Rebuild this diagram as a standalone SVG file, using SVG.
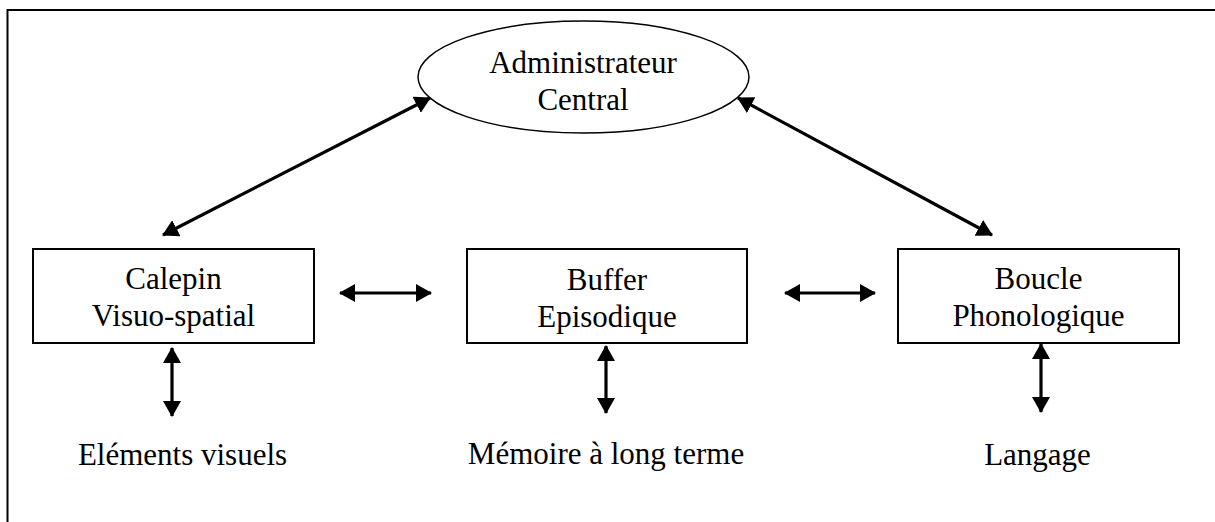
<svg xmlns="http://www.w3.org/2000/svg" width="1215" height="522" viewBox="0 0 1215 522">
<style>
text{font-family:"Liberation Serif","Times New Roman",serif;font-size:31px;fill:#000;text-anchor:middle}
.box{fill:#fff;stroke:#000;stroke-width:2}
.conn line{stroke:#000;stroke-width:3.2;marker-start:url(#ah);marker-end:url(#ah)}
</style>
<defs>
<marker id="ah" markerUnits="userSpaceOnUse" markerWidth="16" markerHeight="18" viewBox="0 0 16 18" refX="15" refY="9" orient="auto-start-reverse">
<path d="M0,0 L16,9 L0,18 z" fill="#000"/>
</marker>
</defs>
<rect width="1215" height="522" fill="#fff"/>
<path d="M7.5,523 V10 H1216" fill="none" stroke="#000" stroke-width="2"/>
<g id="admin">
<ellipse cx="583.5" cy="77" rx="165.5" ry="56" fill="#fff" stroke="#000" stroke-width="1.5"/>
<text x="583" y="73">Administrateur</text>
<text x="583" y="110">Central</text>
</g>
<g id="calepin">
<rect class="box" x="33" y="249" width="281" height="94"/>
<text x="173.5" y="289">Calepin</text>
<text x="173.5" y="326">Visuo-spatial</text>
</g>
<g id="buffer">
<rect class="box" x="467" y="249" width="280" height="94"/>
<text x="607" y="290">Buffer</text>
<text x="607" y="327">Episodique</text>
</g>
<g id="boucle">
<rect class="box" x="898" y="249" width="281" height="94"/>
<text x="1038.5" y="289">Boucle</text>
<text x="1038.5" y="326">Phonologique</text>
</g>
<g id="visuels"><text x="182.5" y="465">Eléments visuels</text></g>
<g id="memoire"><text x="606" y="464">Mémoire à long terme</text></g>
<g id="langage"><text x="1037.5" y="465">Langage</text></g>
<g id="connectors" class="conn">
<line x1="163" y1="235" x2="430" y2="98"/>
<line x1="738" y1="98" x2="992" y2="235"/>
<line x1="340" y1="293" x2="431" y2="293"/>
<line x1="785" y1="293" x2="875" y2="293"/>
<line x1="172" y1="348" x2="172" y2="416"/>
<line x1="606" y1="346" x2="606" y2="413"/>
<line x1="1041" y1="344" x2="1041" y2="412"/>
</g>
</svg>
